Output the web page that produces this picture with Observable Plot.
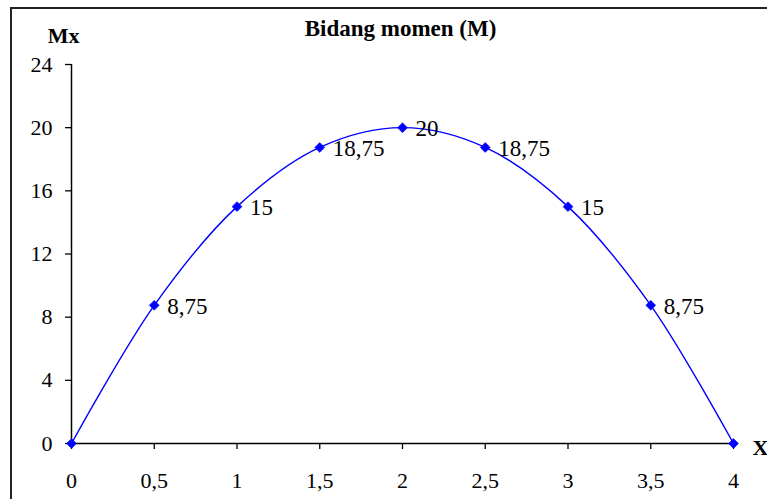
<!DOCTYPE html>
<html>
<head>
<meta charset="utf-8">
<script src="https://cdn.jsdelivr.net/npm/d3@7"></script>
<script src="https://cdn.jsdelivr.net/npm/@observablehq/plot@0.6"></script>
<style>
  html, body { margin: 0; padding: 0; background: #fff; overflow: hidden; }
  #wrap { position: relative; width: 767px; height: 499px; }
  #wrap svg, #wrap svg text { font-family: "Liberation Serif", "Times New Roman", serif !important; }
  #border { position: absolute; left: 10px; top: 7px; width: 900px; height: 700px;
            border-left: 2px solid #222; border-top: 2px solid #222; pointer-events: none; }
</style>
</head>
<body>
<div id="wrap"><div id="border"></div></div>
<script>
const xs = [0, 0.5, 1, 1.5, 2, 2.5, 3, 3.5, 4];
const moments = [0, 8.75, 15, 18.75, 20, 18.75, 15, 8.75, 0];
const xTicks = [0, 0.5, 1, 1.5, 2, 2.5, 3, 3.5, 4];
const yTicks = [0, 4, 8, 12, 16, 20, 24];
const titleText = "Bidang momen (M)";
const yName = "Mx";
const xName = "X";

const data = xs.map((x, i) => ({x, y: moments[i]}));
const fmt = d => String(d).replace(".", ",");
const blue = "#0000ff";
const font = "Liberation Serif";

const chart = Plot.plot({
  width: 767,
  height: 499,
  marginLeft: 71,
  marginRight: 34,
  marginTop: 64,
  marginBottom: 56,
  style: {fontFamily: font, fontSize: "22px", color: "#000", background: "transparent"},
  x: {domain: [0, 4]},
  y: {domain: [0, 24]},
  marks: [
    Plot.axisY(yTicks, {tickSize: 6, tickPadding: 13, tickFormat: fmt, label: null, fontSize: 22, strokeWidth: 1.3}),
    Plot.axisX(xTicks, {tickSize: 6, tickPadding: 23, tickFormat: fmt, label: null, fontSize: 22, strokeWidth: 1.3}),
    Plot.ruleX([0], {y1: 0, y2: 24, stroke: "#000", strokeWidth: 1.5}),
    Plot.ruleY([0], {stroke: "#000", strokeWidth: 1.5}),
    Plot.line(data, {x: "x", y: "y", curve: "catmull-rom", stroke: blue, strokeWidth: 1.4}),
    Plot.dot(data, {x: "x", y: "y", symbol: "diamond2", r: 4.5, fill: blue, stroke: blue, strokeWidth: 0.5}),
    Plot.text(data.filter(d => d.y > 0), {x: "x", y: "y", text: d => fmt(d.y), textAnchor: "start", dx: 13, dy: 1, fontSize: 23, fontFamily: font, fill: "#000"}),
    Plot.text([titleText], {frameAnchor: "top", textAnchor: "middle", lineAnchor: "middle", dx: -2, dy: -36, fontWeight: "bold", fontSize: 23, fontFamily: font, fill: "#000"}),
    Plot.text([yName], {frameAnchor: "top-left", textAnchor: "middle", lineAnchor: "middle", dx: -8, dy: -29, fontWeight: "bold", fontSize: 22, fontFamily: font, fill: "#000"}),
    Plot.text([xName], {frameAnchor: "bottom-right", textAnchor: "start", lineAnchor: "middle", dx: 19, dy: 4, fontWeight: "bold", fontSize: 22, fontFamily: font, fill: "#000"})
  ]
});
document.getElementById("wrap").prepend(chart);
</script>
</body>
</html>
